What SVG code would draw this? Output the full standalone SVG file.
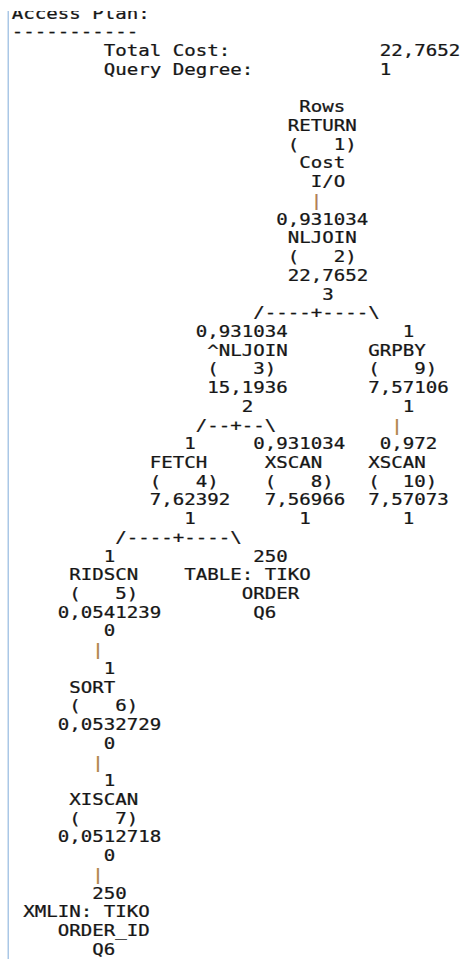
<svg xmlns="http://www.w3.org/2000/svg" width="464" height="959" viewBox="0 0 464 959" xml:space="preserve">
  <style>
    text { font-family: "DejaVu Sans Mono", "Liberation Mono", monospace; font-size: 15.5px; fill: #161616; stroke: #161616; stroke-width: 0.25px; white-space: pre; }
    .pipe { fill: #b0804e; stroke: #b0804e; }
  </style>
  <rect width="464" height="959" fill="#ffffff"/>

  <!-- monospace grid: column c starts at 11.8 + 11.5*c; rows are 18.72px apart -->
  <g transform="translate(11.8 0) scale(1.2324 1)">
    <g id="header">
      <text x="0" y="18.75">Access Plan:</text>
      <text x="0" y="37.47">-----------</text>
      <text x="74.65" y="56.19">Total Cost:</text>
      <text x="298.62" y="56.19">22,7652</text>
      <text x="74.65" y="74.91">Query Degree:</text>
      <text x="298.62" y="74.91">1</text>
    </g>

    <g id="op-1-return">
      <text x="233.30" y="112.35">Rows</text>
      <text x="223.96" y="131.07">RETURN</text>
      <text x="223.96" y="149.79">(   1)</text>
      <text x="233.30" y="168.51">Cost</text>
      <text x="242.63" y="187.23">I/O</text>
    </g>

    <g id="op-2-nljoin">
      <text x="214.63" y="224.67">0,931034</text>
      <text x="223.96" y="243.39">NLJOIN</text>
      <text x="223.96" y="262.11">(   2)</text>
      <text x="223.96" y="280.83">22,7652</text>
      <text x="251.96" y="299.55">3</text>
    </g>

    <g id="op-3-nljoin">
      <text x="149.31" y="336.99">0,931034</text>
      <text x="158.64" y="355.71">^NLJOIN</text>
      <text x="158.64" y="374.43">(   3)</text>
      <text x="158.64" y="393.15">15,1936</text>
      <text x="186.64" y="411.87">2</text>
    </g>

    <g id="op-9-grpby">
      <text x="317.28" y="336.99">1</text>
      <text x="289.29" y="355.71">GRPBY</text>
      <text x="289.29" y="374.43">(   9)</text>
      <text x="289.29" y="393.15">7,57106</text>
      <text x="317.28" y="411.87">1</text>
    </g>

    <g id="op-4-fetch">
      <text x="139.98" y="449.31">1</text>
      <text x="111.98" y="468.03">FETCH</text>
      <text x="111.98" y="486.75">(   4)</text>
      <text x="111.98" y="505.47">7,62392</text>
      <text x="139.98" y="524.19">1</text>
    </g>

    <g id="op-8-xscan">
      <text x="195.97" y="449.31">0,931034</text>
      <text x="205.30" y="468.03">XSCAN</text>
      <text x="205.30" y="486.75">(   8)</text>
      <text x="205.30" y="505.47">7,56966</text>
      <text x="233.30" y="524.19">1</text>
    </g>

    <g id="op-10-xscan">
      <text x="298.62" y="449.31">0,972</text>
      <text x="289.29" y="468.03">XSCAN</text>
      <text x="289.29" y="486.75">(  10)</text>
      <text x="289.29" y="505.47">7,57073</text>
      <text x="317.28" y="524.19">1</text>
    </g>

    <g id="op-5-ridscn">
      <text x="74.65" y="561.63">1</text>
      <text x="46.66" y="580.35">RIDSCN</text>
      <text x="46.66" y="599.07">(   5)</text>
      <text x="37.33" y="617.79">0,0541239</text>
      <text x="74.65" y="636.51">0</text>
    </g>

    <g id="table-tiko-order">
      <text x="195.97" y="561.63">250</text>
      <text x="139.98" y="580.35">TABLE: TIKO</text>
      <text x="186.64" y="599.07">ORDER</text>
      <text x="195.97" y="617.79">Q6</text>
    </g>

    <g id="op-6-sort">
      <text x="74.65" y="673.95">1</text>
      <text x="46.66" y="692.67">SORT</text>
      <text x="46.66" y="711.39">(   6)</text>
      <text x="37.33" y="730.11">0,0532729</text>
      <text x="74.65" y="748.83">0</text>
    </g>

    <g id="op-7-xiscan">
      <text x="74.65" y="786.27">1</text>
      <text x="46.66" y="804.99">XISCAN</text>
      <text x="46.66" y="823.71">(   7)</text>
      <text x="37.33" y="842.43">0,0512718</text>
      <text x="74.65" y="861.15">0</text>
    </g>

    <g id="xmlin-tiko-order-id">
      <text x="65.32" y="898.59">250</text>
      <text x="9.33" y="917.31">XMLIN: TIKO</text>
      <text x="37.33" y="936.03">ORDER_ID</text>
      <text x="65.32" y="954.75">Q6</text>
    </g>

    <g id="connectors">
      <text class="pipe" x="242.63" y="205.95">|</text>
      <text x="195.97" y="318.27">/----+----\</text>
      <text x="149.31" y="430.59">/--+--\</text>
      <text class="pipe" x="307.95" y="430.59">|</text>
      <text x="83.99" y="542.91">/----+----\</text>
      <text class="pipe" x="65.32" y="655.23">|</text>
      <text class="pipe" x="65.32" y="767.55">|</text>
      <text class="pipe" x="65.32" y="879.87">|</text>
    </g>
  </g>

  <!-- top edge of the pane cuts through the first line -->
  <rect x="0" y="0" width="464" height="11" fill="#ffffff"/>
  <!-- left margin rule of the pane -->
  <rect x="7.5" y="11" width="1.5" height="948" fill="#aac7e6"/>
</svg>
